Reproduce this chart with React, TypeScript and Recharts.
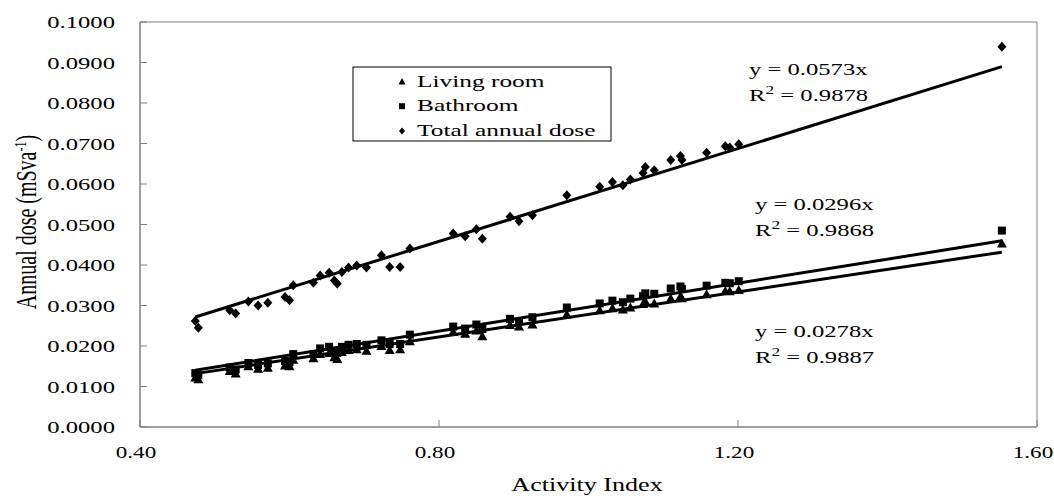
import React from "react";
import { ScatterChart, Scatter, XAxis, YAxis, ReferenceArea, Customized } from "recharts";

// ---- data ----
const activityIndex = [
  0.474, 0.478, 0.52, 0.528, 0.545, 0.558, 0.571, 0.594, 0.6, 0.605,
  0.632, 0.641, 0.653, 0.66, 0.664, 0.67, 0.679, 0.69, 0.703, 0.723,
  0.734, 0.748, 0.761, 0.819, 0.835, 0.85, 0.858, 0.895, 0.907, 0.925,
  0.971, 1.015, 1.032, 1.046, 1.056, 1.073, 1.076, 1.088, 1.11, 1.123,
  1.125, 1.158, 1.183, 1.189, 1.201, 1.553,
];
const livingRoom = [
  0.0122, 0.0118, 0.0138, 0.0132, 0.015, 0.0144, 0.0146, 0.0152, 0.015, 0.0166,
  0.017, 0.018, 0.0183, 0.0172, 0.0168, 0.0185, 0.019, 0.0192, 0.0188, 0.02,
  0.019, 0.0192, 0.0212, 0.0235, 0.023, 0.0238, 0.0224, 0.0252, 0.0248, 0.0253,
  0.0278, 0.0288, 0.0293, 0.029, 0.0295, 0.0304, 0.031, 0.0305, 0.0317, 0.0322,
  0.0318, 0.0328, 0.0336, 0.0335, 0.0338, 0.0453,
];
const bathroom = [
  0.0133, 0.0128, 0.0147, 0.0142, 0.0158, 0.0153, 0.0157, 0.0163, 0.016, 0.018,
  0.018, 0.0194, 0.0198, 0.0187, 0.0183, 0.0198, 0.0203, 0.0205, 0.0203, 0.0214,
  0.0205, 0.0205, 0.0228, 0.0248, 0.0243, 0.0253, 0.0242, 0.0267, 0.026, 0.0271,
  0.0295, 0.0305, 0.0312, 0.0308, 0.0317, 0.0323, 0.033, 0.0329, 0.0342, 0.0347,
  0.0341, 0.0349, 0.0356, 0.0355, 0.036, 0.0485,
];
const totalDose = [
  0.0262, 0.0245, 0.0288, 0.028, 0.031, 0.03, 0.0307, 0.0321, 0.0313, 0.035,
  0.0356, 0.0374, 0.0381, 0.0362, 0.0354, 0.0383, 0.0394, 0.0399, 0.0394, 0.0424,
  0.0395, 0.0395, 0.0441, 0.0478, 0.0471, 0.0488, 0.0465, 0.0519, 0.0508, 0.0523,
  0.0572, 0.0593, 0.0605, 0.0597, 0.0611, 0.0627, 0.0642, 0.0634, 0.0659, 0.0669,
  0.0659, 0.0677, 0.0693, 0.069, 0.0698, 0.0939,
];
const seriesNames = ["Living room", "Bathroom", "Total annual dose"];
const trendSlopes = [0.0278, 0.0296, 0.0573];
const trendR2 = ["0.9887", "0.9868", "0.9878"];
const xTicks = [0.4, 0.8, 1.2, 1.6];
const yTicks = [0, 0.01, 0.02, 0.03, 0.04, 0.05, 0.06, 0.07, 0.08, 0.09, 0.1];
const xTitle = "Activity Index";

// ---- derived tables ----
const toPoints = (ys: number[]) => activityIndex.map((x, i) => ({ x, y: ys[i] }));
const livingData = toPoints(livingRoom);
const bathData = toPoints(bathroom);
const totalData = toPoints(totalDose);
const xMin = Math.min(...activityIndex);
const xMax = Math.max(...activityIndex);
const trendData = trendSlopes.map((m) => [
  { x: xMin, y: m * xMin },
  { x: xMax, y: m * xMax },
]);

const FONT = "'Liberation Serif', 'Times New Roman', serif";
const SX = 1.45;
const AXIS_COLOR = "#808080";

const Triangle = (p: any) => (
  <path d={`M${p.cx},${p.cy - 5}L${p.cx + 5},${p.cy + 4}L${p.cx - 5},${p.cy + 4}Z`} fill="#000" />
);
const Square = (p: any) => <rect x={p.cx - 4} y={p.cy - 4} width={8} height={8} fill="#000" />;
const Diamond = (p: any) => (
  <path d={`M${p.cx},${p.cy - 5}L${p.cx + 4.5},${p.cy}L${p.cx},${p.cy + 5}L${p.cx - 4.5},${p.cy}Z`} fill="#000" />
);
const LegTriangle = (p: any) => (
  <path d={`M${p.cx},${p.cy - 3.5}L${p.cx + 3.5},${p.cy + 3}L${p.cx - 3.5},${p.cy + 3}Z`} fill="#000" />
);
const LegSquare = (p: any) => <rect x={p.cx - 3} y={p.cy - 3} width={6} height={6} fill="#000" />;
const LegDiamond = (p: any) => (
  <path d={`M${p.cx},${p.cy - 3.5}L${p.cx + 3},${p.cy}L${p.cx},${p.cy + 3.5}L${p.cx - 3},${p.cy}Z`} fill="#000" />
);
const NoShape = () => <g />;

const STxt = ({ x, y, children, size = 17, anchor = "start", sx = SX }: any) => (
  <text
    transform={`translate(${x},${y}) scale(${sx},1)`}
    fontFamily={FONT}
    fontSize={size}
    fill="#000"
    textAnchor={anchor}
  >
    {children}
  </text>
);

const XTick = (props: any) => {
  const { x, y, payload } = props;
  return (
    <g>
      <line x1={x} x2={x} y1={y} y2={y - 7} stroke={AXIS_COLOR} strokeWidth={1} />
      <STxt x={x - 4} y={y + 31} anchor="middle" sx={1.36}>{payload.value.toFixed(2)}</STxt>
    </g>
  );
};

const YTick = (props: any) => {
  const { x, y, payload } = props;
  return (
    <g>
      <line x1={x} x2={x + 7} y1={y} y2={y} stroke={AXIS_COLOR} strokeWidth={1} />
      <STxt x={x - 25} y={y + 6} anchor="end">{payload.value.toFixed(4)}</STxt>
    </g>
  );
};

const Overlay = () => {
  const markers = [LegTriangle, LegSquare, LegDiamond];
  return (
    <g>
      {/* y axis title */}
      <text
        transform={`translate(36,222) rotate(-90) scale(1,${SX})`}
        fontFamily={FONT}
        fontSize={20}
        textAnchor="middle"
        fill="#000"
      >
        Annual dose (mSva
        <tspan dy={-7} fontSize={12}>-1</tspan>
        <tspan dy={7}>)</tspan>
      </text>
      {/* x axis title */}
      <STxt x={587} y={491} size={18} anchor="middle">{xTitle}</STxt>
      {/* legend */}
      <rect x={353} y={67} width={258} height={74} fill="#fff" stroke="#000" strokeWidth={1} />
      {seriesNames.map((n, i) => {
        const M = markers[i];
        const yy = 86.5 + i * 24.7;
        return (
          <g key={n}>
            {M({ cx: 402, cy: yy - 5 })}
            <STxt x={417} y={yy} size={17.5}>{n}</STxt>
          </g>
        );
      })}
      {/* trend equations */}
      {[
        { x: 749, y: 75, i: 2 },
        { x: 755, y: 210, i: 1 },
        { x: 755, y: 337, i: 0 },
      ].map(({ x, y, i }) => (
        <g key={i}>
          <STxt x={x} y={y} size={17}>{`y = ${trendSlopes[i].toFixed(4)}x`}</STxt>
          <text
            transform={`translate(${x},${y + 26}) scale(${SX},1)`}
            fontFamily={FONT}
            fontSize={17}
            fill="#000"
          >
            R<tspan dy={-7} fontSize={12}>2</tspan>
            <tspan dy={7}>{` = ${trendR2[i]}`}</tspan>
          </text>
        </g>
      ))}
    </g>
  );
};

export default function App() {
  return (
    <div style={{ position: "absolute", left: 0, top: 0, background: "#fff" }}>
      <ScatterChart width={1054} height={496} margin={{ top: 22, right: 17, left: 0, bottom: 0 }}>
        <XAxis
          type="number"
          dataKey="x"
          domain={[0.4, 1.6]}
          ticks={xTicks}
          tickSize={0}
          tickMargin={0}
          tickLine={false}
          tick={<XTick />}
          axisLine={{ stroke: AXIS_COLOR, strokeWidth: 1 }}
          height={69}
          allowDataOverflow
        />
        <YAxis
          type="number"
          dataKey="y"
          domain={[0, 0.1]}
          ticks={yTicks}
          tickSize={0}
          tickMargin={0}
          tickLine={false}
          tick={<YTick />}
          axisLine={{ stroke: AXIS_COLOR, strokeWidth: 1 }}
          width={140}
          allowDataOverflow
        />
        <ReferenceArea x1={0.4} x2={1.6} y1={0} y2={0.1} fill="none" stroke={AXIS_COLOR} strokeWidth={1} ifOverflow="extendDomain" />
        <Scatter name={seriesNames[0]} data={livingData} shape={Triangle} isAnimationActive={false} />
        <Scatter name={seriesNames[1]} data={bathData} shape={Square} isAnimationActive={false} />
        <Scatter name={seriesNames[2]} data={totalData} shape={Diamond} isAnimationActive={false} />
        {trendData.map((d, i) => (
          <Scatter
            key={i}
            data={d}
            shape={NoShape}
            line={{ stroke: "#000", strokeWidth: 3 }}
            isAnimationActive={false}
          />
        ))}
        <Customized component={<Overlay />} />
      </ScatterChart>
    </div>
  );
}
